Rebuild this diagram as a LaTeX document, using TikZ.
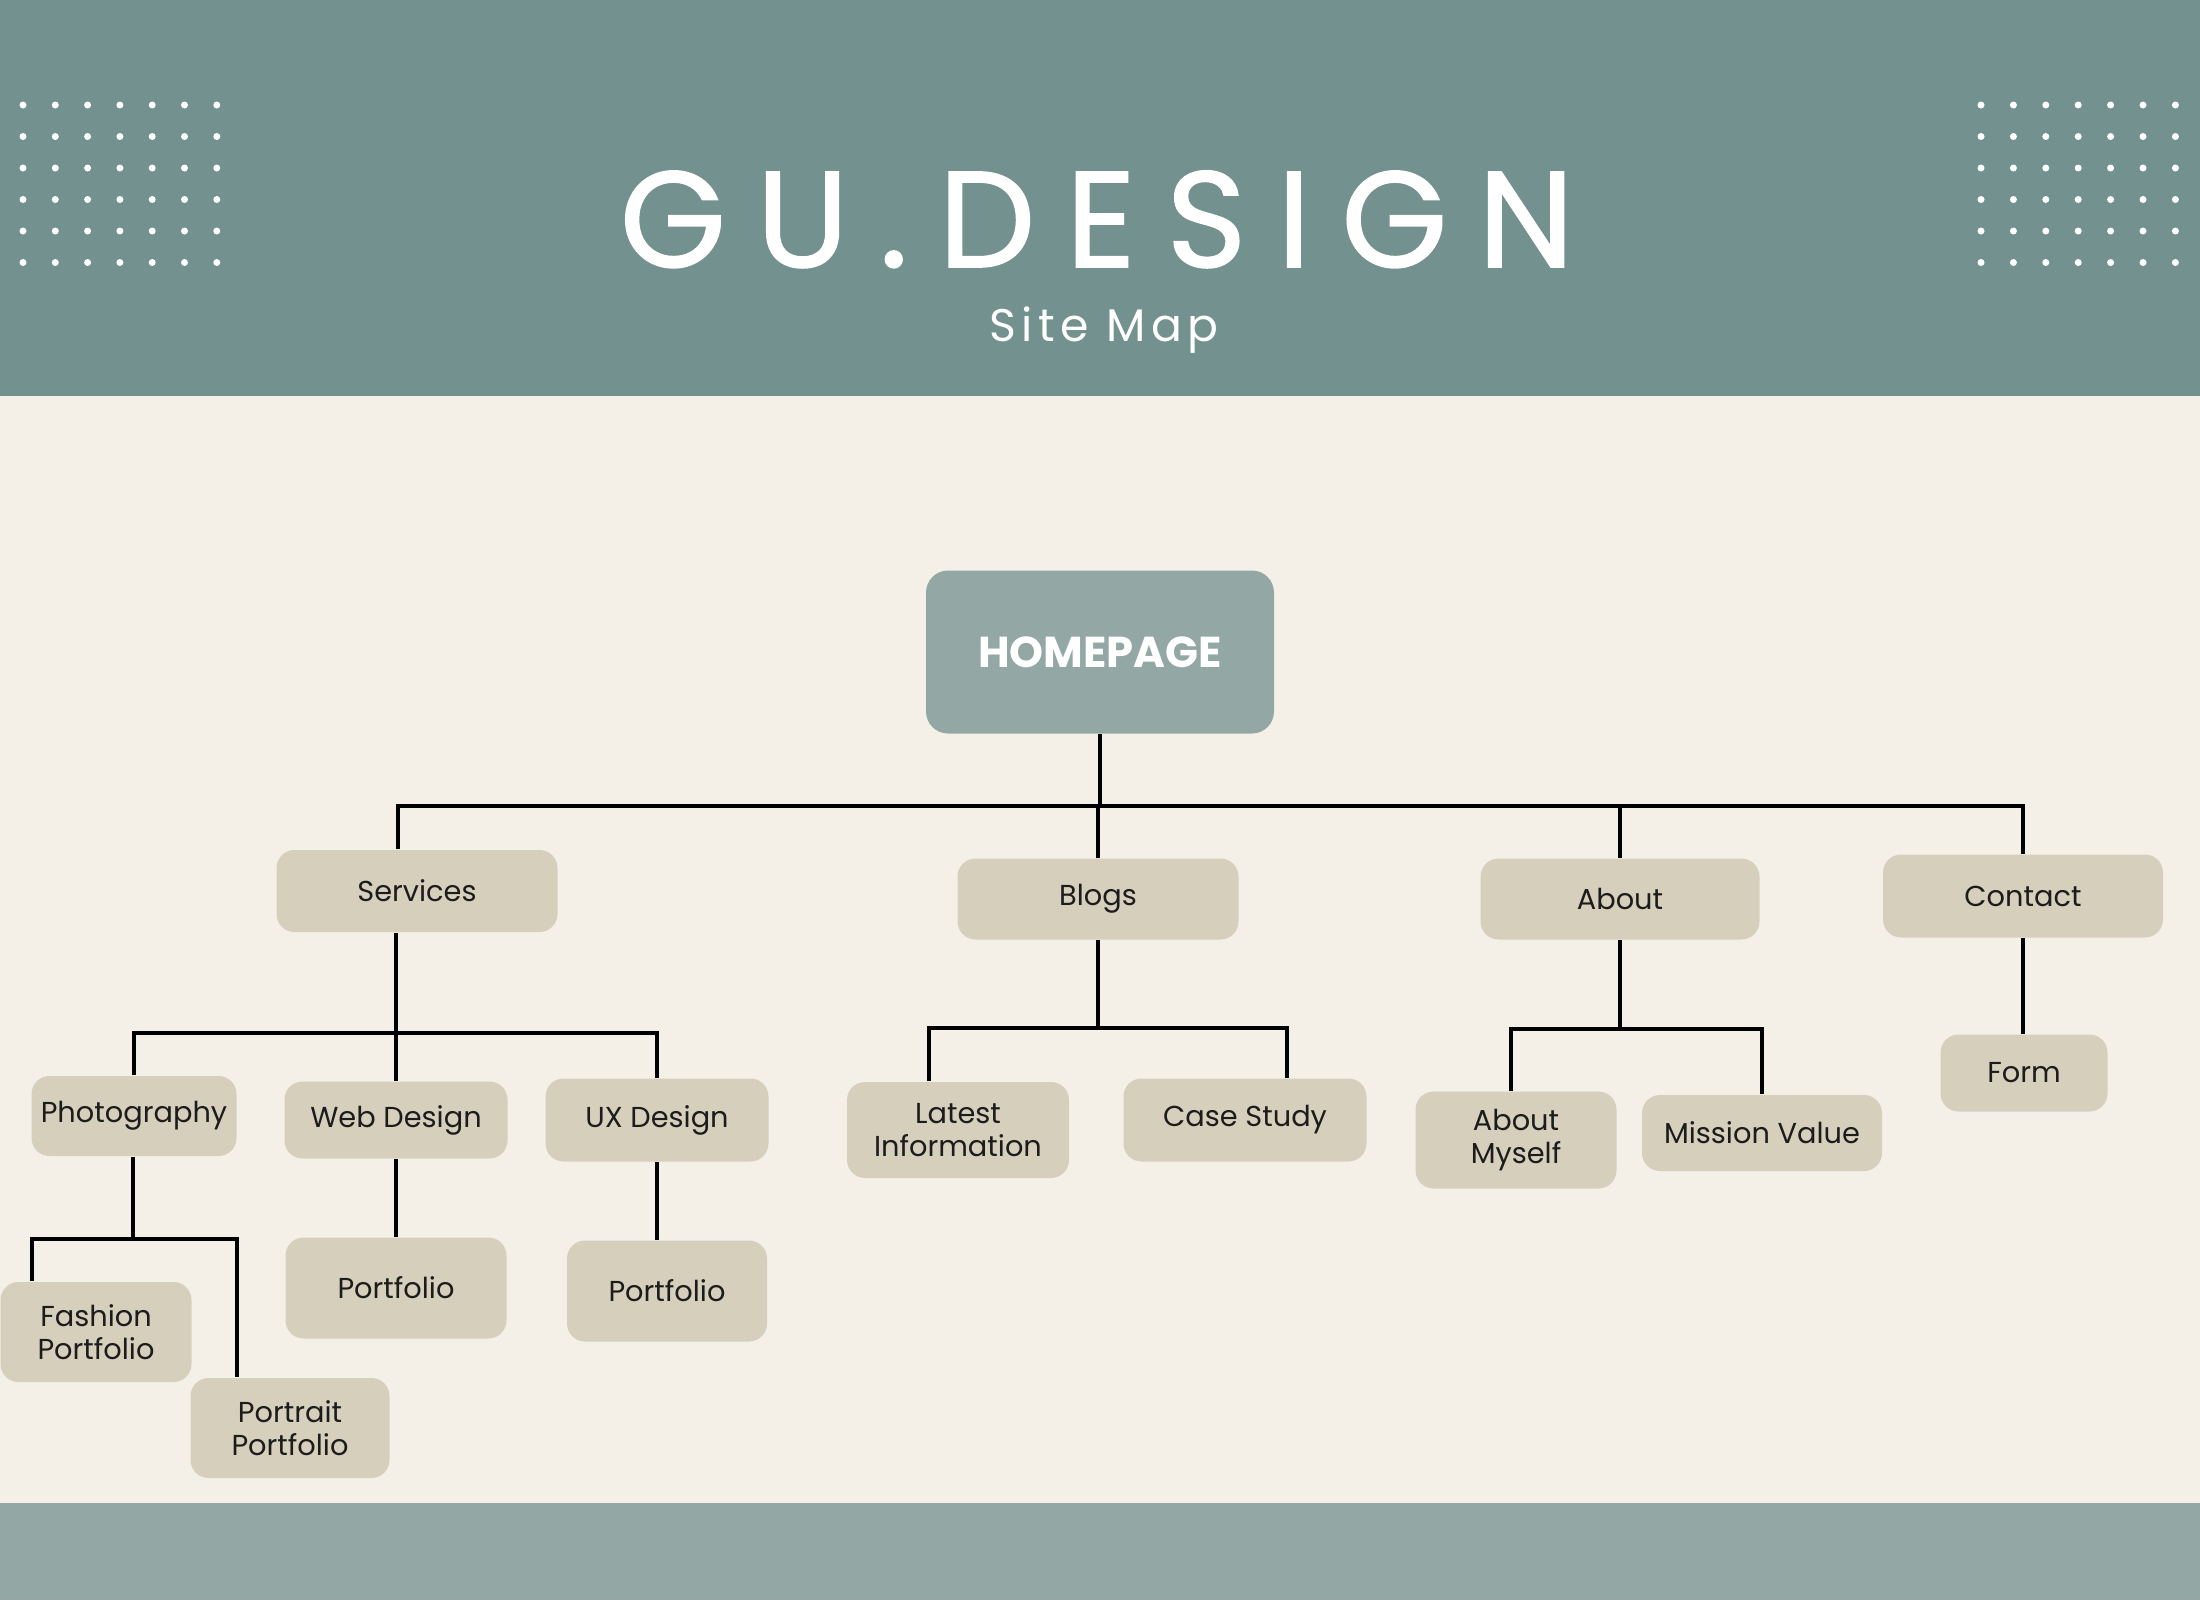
\documentclass[tikz,border=0pt]{standalone}
\usepackage{fontspec}
\newfontfamily\pop{Poppins}
\newfontfamily\poptitle[LetterSpace=22.5,FakeBold=1.2]{Poppins}
\newfontfamily\popsub[LetterSpace=12]{Poppins}
\usetikzlibrary{calc}
\definecolor{hdr}{HTML}{73918F}
\definecolor{ftr}{HTML}{93A8A4}
\definecolor{bodybg}{HTML}{F4F0E8}
\definecolor{nodefill}{HTML}{D5CFBC}
\definecolor{homefill}{HTML}{93A8A5}
\definecolor{txt}{HTML}{1C1C1C}
\begin{document}
\begin{tikzpicture}[x=0.1mm,y=-0.1mm,
  pagebox/.style={fill=nodefill, rounded corners=1.8mm, inner sep=0pt, align=center,
    text=txt, font=\pop\fontsize{8.2}{9.4}\selectfont},
  homebox/.style={fill=homefill, rounded corners=2.2mm, inner sep=0pt, text=white,
    font=\pop\bfseries\fontsize{12.3}{14}\selectfont},
  conn/.style={draw=black, line width=1.05pt},
  dot/.style={fill=white, draw=none}]
\useasboundingbox (0,0) rectangle (2200,1600);
% background bands
\fill[bodybg] (0,396) rectangle (2200,1503);
\fill[hdr] (0,0) rectangle (2200,396);
\fill[ftr] (0,1503) rectangle (2200,1600);
% dot grids
\foreach \i in {0,...,6}{
  \foreach \j in {0,...,5}{
    \fill[dot] ({23+32.3*\i},{105+31.5*\j}) circle (3.5);
    \fill[dot] ({1981+32.4*\i},{105+31.5*\j}) circle (3.5);
  }
}
% titles
\node[anchor=base, text=white, font=\poptitle\fontsize{38.8}{40}\selectfont, inner sep=0pt] (title) at (1097,267) {GU.DESIGN};
\node[anchor=base, text=white, font=\popsub\fontsize{13}{15}\selectfont, inner sep=0pt] (subtitle) at (1104,341) {Site Map};
% nodes
\node[homebox, minimum width=34.8mm, minimum height=16.3mm] (home) at (1100,652) {HOMEPAGE};
\node[pagebox, minimum width=28.1mm, minimum height=8.2mm] (services) at (417,891) {Services};
\node[pagebox, minimum width=28.1mm, minimum height=8.1mm] (blogs) at (1098,899) {Blogs};
\node[pagebox, minimum width=27.9mm, minimum height=8.1mm] (about) at (1620,899) {About};
\node[pagebox, minimum width=28.0mm, minimum height=8.3mm] (contact) at (2023,896) {Contact};
\node[pagebox, minimum width=20.5mm, minimum height=8.0mm] (photo) at (134,1116) {Photography};
\node[pagebox, minimum width=22.3mm, minimum height=7.7mm] (web) at (396,1120) {Web Design};
\node[pagebox, minimum width=22.3mm, minimum height=8.3mm] (ux) at (657,1120) {UX Design};
\node[pagebox, minimum width=22.1mm, minimum height=10.1mm] (pfa) at (396,1288) {Portfolio};
\node[pagebox, minimum width=20.0mm, minimum height=10.1mm] (pfb) at (667,1291) {Portfolio};
\node[pagebox, minimum width=19.1mm, minimum height=10.0mm] (fashion) at (96,1332) {Fashion\\Portfolio};
\node[pagebox, minimum width=19.9mm, minimum height=10.0mm] (portrait) at (290,1428) {Portrait\\Portfolio};
\node[pagebox, minimum width=22.2mm, minimum height=9.6mm] (latest) at (958,1130) {Latest\\Information};
\node[pagebox, minimum width=24.3mm, minimum height=8.3mm] (case) at (1245,1120) {Case Study};
\node[pagebox, minimum width=20.1mm, minimum height=9.7mm] (aboutme) at (1516,1140) {About\\Myself};
\node[pagebox, minimum width=24.0mm, minimum height=7.6mm] (mission) at (1762,1133) {Mission Value};
\node[pagebox, minimum width=16.7mm, minimum height=7.7mm] (form) at (2024,1073) {Form};
% junction coordinates
\coordinate (b0) at (1100,806);
\coordinate (b1) at (396,1033);
\coordinate (b2) at (133,1239);
\coordinate (b3) at (1101,1028);
\coordinate (b4) at (1620,1029);
% connectors: level 1
\draw[conn] (home.south) -- (b0);
\draw[conn] ($(services.north)+(-19,0)$) |- (b0) -| (contact.north);
\draw[conn] (blogs.north) -- (blogs.north |- b0);
\draw[conn] (about.north) -- (about.north |- b0);
% services subtree
\draw[conn] (services.south -| b1) -- (b1);
\draw[conn] (photo.north) |- (b1) -| (ux.north);
\draw[conn] (web.north) -- (web.north |- b1);
\draw[conn] (web.south) -- (web.south |- pfa.north);
\draw[conn] (ux.south) -- (ux.south |- pfb.north);
% photography subtree
\draw[conn] (photo.south -| b2) -- (b2);
\draw[conn] ($(fashion.north west)+(32,0)$) |- (b2) -| ($(portrait.north west)+(47,0)$);
% blogs subtree
\draw[conn] (blogs.south) -- (blogs.south |- b3);
\draw[conn] ($(latest.north)+(-29,0)$) |- (b3) -| ($(case.north)+(42,0)$);
% about subtree
\draw[conn] (about.south) -- (b4);
\draw[conn] ($(aboutme.north)+(-5,0)$) |- (b4) -| (mission.north);
% contact subtree
\draw[conn] (contact.south) -- (contact.south |- form.north);
\end{tikzpicture}
\end{document}
